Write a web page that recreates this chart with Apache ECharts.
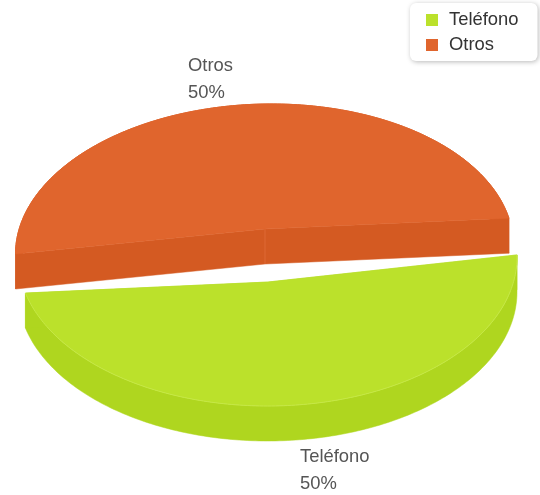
<!DOCTYPE html>
<html>
<head>
<meta charset="utf-8">
<style>html,body{margin:0;padding:0;background:#fff}#c{width:540px;height:495px;filter:blur(0.45px)}</style>
<script src="https://cdn.jsdelivr.net/npm/echarts@6/dist/echarts.min.js"></script>
</head>
<body>
<div id="c"></div>
<script>
const categories = ['Teléfono', 'Otros'];
const values = [50, 50];
const total = values.reduce((a, b) => a + b, 0);

const topColors = { 'Teléfono': '#BBE12B', 'Otros': '#E0652D' };
const wallColors = { 'Teléfono': '#AFD61F', 'Otros': '#D45A22' };
const rimColors = { 'Teléfono': '#C6E846', 'Otros': '#E0652D' };
const seamColors = { 'Teléfono': '#AFD61F', 'Otros': '#DE6A36' };
// Projection of each exploded slice: ellipse, apex, first angle and how much perspective narrows its sweep
const layout = {
  'Otros': { cx: 264.5, cy: 250, rx: 249, ry: 146, skew: 4, apex: [265, 229], start: 11, narrow: 169 / 180, label: [188, 53] },
  'Teléfono': { cx: 267.5, cy: 257, rx: 249.5, ry: 149, skew: 0, apex: [268, 282], start: 194, narrow: 166.8 / 180, label: [300, 444] }
};
const depth = 35, STEP = 180;

function slicePoints(name, value) {
  const l = layout[name], arc = [];
  const sweep = value / total * 360 * l.narrow;
  for (let i = 0; i <= STEP; i++) {
    const t = (l.start + sweep * i / STEP) * Math.PI / 180;
    arc.push([l.cx + l.rx * Math.cos(t), l.cy - l.ry * Math.sin(t) - l.skew * Math.cos(t)]);
  }
  return { arc, apex: l.apex };
}
const down = p => [p[0], p[1] + depth];

function renderSlice(params, api) {
  const name = params.seriesName, value = api.value(0);
  const { arc, apex } = slicePoints(name, value);
  const top = topColors[name], wall = wallColors[name], l = layout[name];
  const first = arc[0], last = arc[arc.length - 1];
  const pct = Math.round(value / total * 100) + '%';
  const poly = (points, fill) => ({
    type: 'polygon', shape: { points }, style: { fill, stroke: fill, lineWidth: 0.5 }
  });
  const children = [
    poly(arc.concat(arc.slice().reverse().map(down)), wall),
    poly([first, apex, down(apex), down(first)], wall),
    poly([last, apex, down(apex), down(last)], wall),
    { type: 'line', shape: { x1: apex[0], y1: apex[1], x2: apex[0], y2: apex[1] + depth },
      style: { stroke: seamColors[name], lineWidth: 1 } },
    poly([apex].concat(arc), top),
    { type: 'polyline', shape: { points: arc }, style: { stroke: rimColors[name], lineWidth: 1, fill: null } },
    { type: 'text', style: { text: name + '\n' + pct, x: l.label[0], y: l.label[1], fill: '#555',
      font: '18.4px "Liberation Sans", Arial, sans-serif', lineHeight: 26.5, textAlign: 'left', textVerticalAlign: 'top' } }
  ];
  return { type: 'group', children };
}

// Paint the rear slice first so the front one sits over it
const order = ['Otros', 'Teléfono'];
const chart = echarts.init(document.getElementById('c'), null, { renderer: 'canvas' });
chart.setOption({
  animation: false,
  backgroundColor: '#fff',
  legend: {
    data: categories, orient: 'vertical', left: 410, top: 3,
    padding: [8, 19, 7, 16], itemWidth: 12, itemHeight: 12, itemGap: 7, icon: 'rect',
    backgroundColor: '#fff', borderRadius: 6,
    shadowColor: 'rgba(0,0,0,0.28)', shadowBlur: 5, shadowOffsetX: 1, shadowOffsetY: 1,
    textStyle: { color: '#333', fontSize: 18.4, padding: [0, 0, 0, 6], fontFamily: '"Liberation Sans", Arial, sans-serif' },
    itemStyle: { borderWidth: 0 }
  },
  series: order.map(name => ({
    type: 'custom', name, coordinateSystem: 'none', renderItem: renderSlice,
    itemStyle: { color: topColors[name] },
    data: [[values[categories.indexOf(name)]]]
  }))
});
</script>
</body>
</html>
